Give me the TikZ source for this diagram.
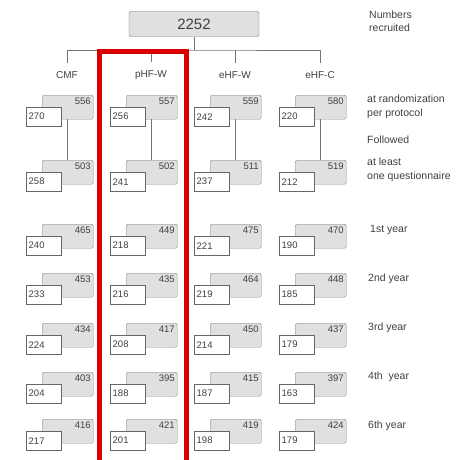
\documentclass[tikz,border=0pt]{standalone}
\usepackage{fontspec}
\setmainfont{Liberation Sans}
\usetikzlibrary{positioning}

\begin{document}
\begin{tikzpicture}[
    x=1pt, y=-1pt,
    txt/.style={text=black!75},
    total/.style={draw=black!55, fill=black!12, rounded corners=2pt, minimum width=130pt, minimum height=25pt, font=\fontsize{15}{15}\selectfont, txt},
    arm/.style={inner xsep=1pt, inner ysep=8pt, font=\fontsize{10}{10}\selectfont, txt},
    back/.style={draw=black!50, fill=black!12, rounded corners=1.5pt, minimum width=51pt, minimum height=24pt, anchor=north west, inner sep=0pt},
    front/.style={draw=black!60, fill=white, minimum width=35pt, minimum height=19pt, text width=30pt, inner xsep=2.5pt, inner ysep=0pt, align=left, anchor=north west, font=\fontsize{9.5}{9.5}\selectfont, txt},
    num/.style={inner sep=2.5pt, font=\fontsize{9.5}{9.5}\selectfont, txt},
    note/.style={anchor=west, align=left, inner xsep=0pt, font=\fontsize{10.5}{13.5}\selectfont, txt},
    link/.style={draw=black!55, line width=0.7pt},
    hl/.style={draw=red!85!black, line width=5pt}
]
\useasboundingbox (0,0) rectangle (456,460);

% recruited and the four arms
\node[total] (total) at (194,24) {2252};
\coordinate (split) at (194,50);
\node[arm] (cmf) at (67,75) {CMF};
\node[arm] (phfw) at (151,75) {pHF-W};
\node[arm] (ehfw) at (235,75) {eHF-W};
\node[arm] (ehfc) at (320,75) {eHF-C};

\draw[link] (total) -- (split);
\draw[link] (cmf) |- (split) -| (ehfc);
\draw[link] (phfw) -- (phfw |- split);
\draw[link] (ehfw) -- (ehfw |- split);

% arm / row / all / women
\foreach \c/\r/\gn/\wn in {
    1/1/556/270, 2/1/557/256, 3/1/559/242, 4/1/580/220,
    1/2/503/258, 2/2/502/241, 3/2/511/237, 4/2/519/212,
    1/3/465/240, 2/3/449/218, 3/3/475/221, 4/3/470/190,
    1/4/453/233, 2/4/435/216, 3/4/464/219, 4/4/448/185,
    1/5/434/224, 2/5/417/208, 3/5/450/214, 4/5/437/179,
    1/6/403/204, 2/6/395/188, 3/6/415/187, 4/6/397/163,
    1/7/416/217, 2/7/421/201, 3/7/419/198, 4/7/424/179}{
    \pgfmathsetmacro\gx{{42,126,210,295}[\c-1]}
    \pgfmathsetmacro\gy{{95,160,224,273,323,372,419}[\r-1]}
    \node[back, label={[num, anchor=north east]north east:\gn}] (g\c\r) at (\gx,\gy) {};
    \node[front] (w\c\r) at (\gx-16,\gy+12) {\wn};
}

\foreach \c in {1,...,4}
    \draw[link] (g\c1) -- (g\c2);

% highlighted arm
\draw[hl] (99,52) rectangle (186,466);

% row captions
\node[note] (recruit) at (369,21) {Numbers\\recruited};
\node[note] (rand) at (367,107) {at randomization\\per protocol};
\node[note] (follow) at (367,140) {Followed};
\node[note] (least) at (367,170) {at least\\one questionnaire};
\node[note] (y1) at (370,230) {1st year};
\node[note] (y2) at (368,279) {2nd year};
\node[note] (y3) at (368,328) {3rd year};
\node[note] (y4) at (368,377) {4th\ \ year};
\node[note] (y6) at (368,426) {6th year};

\end{tikzpicture}
\end{document}
